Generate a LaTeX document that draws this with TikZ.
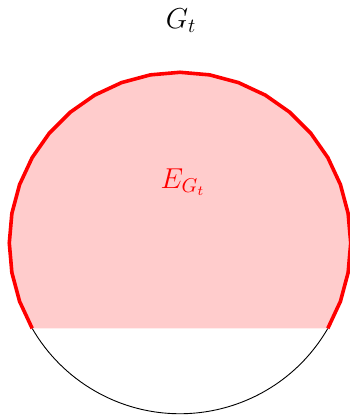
\documentclass[tikz,border=0pt]{standalone}
\begin{document}
\begin{tikzpicture}
\tikzset{
  arcline/.style={black, line width=0.45pt},
  redfill/.style={fill=red!20},
  redline/.style={red, line width=1.8pt},
  lbl/.style={font=\fontsize{14}{17}\selectfont},
}
\useasboundingbox (-90pt,-86.5pt) rectangle (84.5pt,121.5pt);
\coordinate (O) at (0,0);
\draw[arcline] (-30:3cm) arc[start angle=-30, end angle=-150, radius=3cm];
\fill[redfill] plot[samples=25, domain=210:-30] ({3*cos(\x)},{3*sin(\x)}) -- cycle;
\draw[redline] plot[samples=25, domain=210:-30] ({3*cos(\x)},{3*sin(\x)});
\node[lbl] (title) at (0.5pt, 111pt) {$G_t$};
\node[lbl, red] (elabel) at (1.5pt, 30.5pt) {$E_{G_t}$};
\end{tikzpicture}
\end{document}
